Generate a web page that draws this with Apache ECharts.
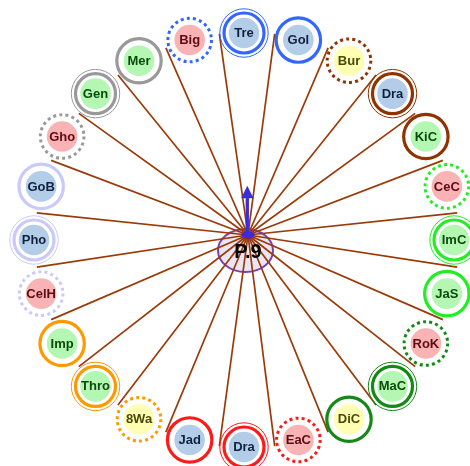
<!DOCTYPE html>
<html>
<head>
<meta charset="utf-8">
<script src="https://cdn.jsdelivr.net/npm/echarts@6/dist/echarts.min.js"></script>
<style>
html,body{margin:0;padding:0;background:#fff;}
#chart{width:470px;height:466px;}
</style>
</head>
<body>
<div id="chart"></div>
<script>
// ---- data ----
const centerName = 'P.9';
const names = ['Tre','Gol','Bur','Dra','KiC','CeC','ImC','JaS','RoK','MaC','DiC','EaC','Dra','Jad','8Wa','Thro','Imp','CelH','Pho','GoB','Gho','Gen','Mer','Big'];
const fillKinds = ['blue','blue','yellow','blue','green','pink','green','green','pink','green','yellow','pink','blue','blue','yellow','green','green','pink','blue','blue','pink','green','green','pink'];
const ringGroups = ['blue','blue','brown','brown','brown','lime','lime','lime','dgreen','dgreen','dgreen','red','red','red','orange','orange','orange','lav','lav','lav','gray','gray','gray','blue'];
const ringStyles = ['double','solid','dotted','double','solid','dotted','double','solid','dotted','double','solid','dotted','double','solid','dotted','double','solid','dotted','double','solid','dotted','double','solid','dotted'];

// ---- styles ----
const fillColors = {pink:'#f9b3b5', green:'#b3f7b3', blue:'#b3cde9', yellow:'#ffffb3'};
const textColors = {pink:'#5e0b12', green:'#0b4a0b', blue:'#0e2240', yellow:'#4a4a0b'};
const ringColors = {blue:'#3366ff', brown:'#8f3300', lime:'#22ee22', dgreen:'#138a13', red:'#ff1a1a', orange:'#ff9900', lav:'#c9c9fb', gray:'#999999'};
const RX = 210, RY = 207;
const step = 360 / names.length;

const nodeData = names.map((n, i) => {
  const a = i * step * Math.PI / 180;
  return [RX * Math.sin(a), RY * Math.cos(a), i];
});
const edgeData = names.map((n, i) => {
  const a = (i * step + step / 2) * Math.PI / 180;
  return [4, 5, 3 + 212 * Math.sin(a), 208 * Math.cos(a)];
});

const chart = echarts.init(document.getElementById('chart'), null, {renderer:'canvas'});
chart.setOption({
  animation: false,
  grid: {left:0, right:0, top:0, bottom:0},
  xAxis: {type:'value', min:-244, max:226, show:false},
  yAxis: {type:'value', min:-226, max:240, show:false},
  series: [
    {
      type:'custom', z:1, data:[[1.5,-10.5]],
      renderItem(params, api){
        const p = api.coord([api.value(0), api.value(1)]);
        return {type:'ellipse', shape:{cx:p[0], cy:p[1], rx:27.5, ry:21.5},
          style:{fill:'#ece5f2', stroke:'#7b3fb5', lineWidth:2}};
      }
    },
    {
      type:'custom', z:2, data: edgeData,
      renderItem(params, api){
        const s = api.coord([api.value(0), api.value(1)]);
        const e = api.coord([api.value(2), api.value(3)]);
        return {type:'line', shape:{x1:s[0], y1:s[1], x2:e[0], y2:e[1]},
          style:{stroke:'#9a3a08', lineWidth:1.7}};
      }
    },
    {
      type:'custom', z:3, data: nodeData,
      renderItem(params, api){
        const i = api.value(2);
        const p = api.coord([api.value(0), api.value(1)]);
        const rc = ringColors[ringGroups[i]];
        const st = ringStyles[i];
        const kids = [];
        if (st === 'solid') {
          kids.push({type:'circle', shape:{cx:p[0], cy:p[1], r:22.2}, style:{fill:'none', stroke:rc, lineWidth:3.2}});
        } else if (st === 'double') {
          kids.push({type:'circle', shape:{cx:p[0], cy:p[1], r:20}, style:{fill:'none', stroke:rc, lineWidth:3.2}});
          kids.push({type:'circle', shape:{cx:p[0], cy:p[1], r:24.2}, style:{fill:'none', stroke:rc, lineWidth:1}});
        } else {
          kids.push({type:'circle', shape:{cx:p[0], cy:p[1], r:21.8}, style:{fill:'none', stroke:rc, lineWidth:3, lineDash:[3,3.2]}});
        }
        kids.push({type:'circle', shape:{cx:p[0], cy:p[1], r:15.3}, style:{fill:fillColors[fillKinds[i]]}});
        kids.push({type:'text', style:{text:names[i], x:p[0], y:p[1]+0.5, textAlign:'center', textVerticalAlign:'middle',
          font:'bold 13px "Liberation Sans", Arial, sans-serif', fill:textColors[fillKinds[i]]}});
        return {type:'group', children:kids};
      }
    },
    {
      type:'custom', z:4, data:[[4,-12.5,4,5]],
      renderItem(params, api){
        const t = api.coord([api.value(0), api.value(1)]);
        const d = api.coord([api.value(2), api.value(3)]);
        return {type:'group', children:[
          {type:'text', style:{text:centerName, x:t[0], y:t[1], textAlign:'center', textVerticalAlign:'middle',
            font:'bold 20px "Liberation Sans", Arial, sans-serif', fill:'#000'}},
          {type:'line', shape:{x1:d[0]-0.7, y1:d[1], x2:d[0]-0.7, y2:d[1]-37}, style:{stroke:'#3b2cdb', lineWidth:3.3}},
          {type:'polygon', shape:{points:[[d[0]-6.9,d[1]-36.7],[d[0]+5.5,d[1]-36.7],[d[0]-0.7,d[1]-49.3]]}, style:{fill:'#3b2cdb'}},
          {type:'ellipse', shape:{cx:d[0], cy:d[1], rx:6.7, ry:3.4}, style:{fill:'#3b2cdb'}}
        ]};
      }
    }
  ]
});
</script>
</body>
</html>
